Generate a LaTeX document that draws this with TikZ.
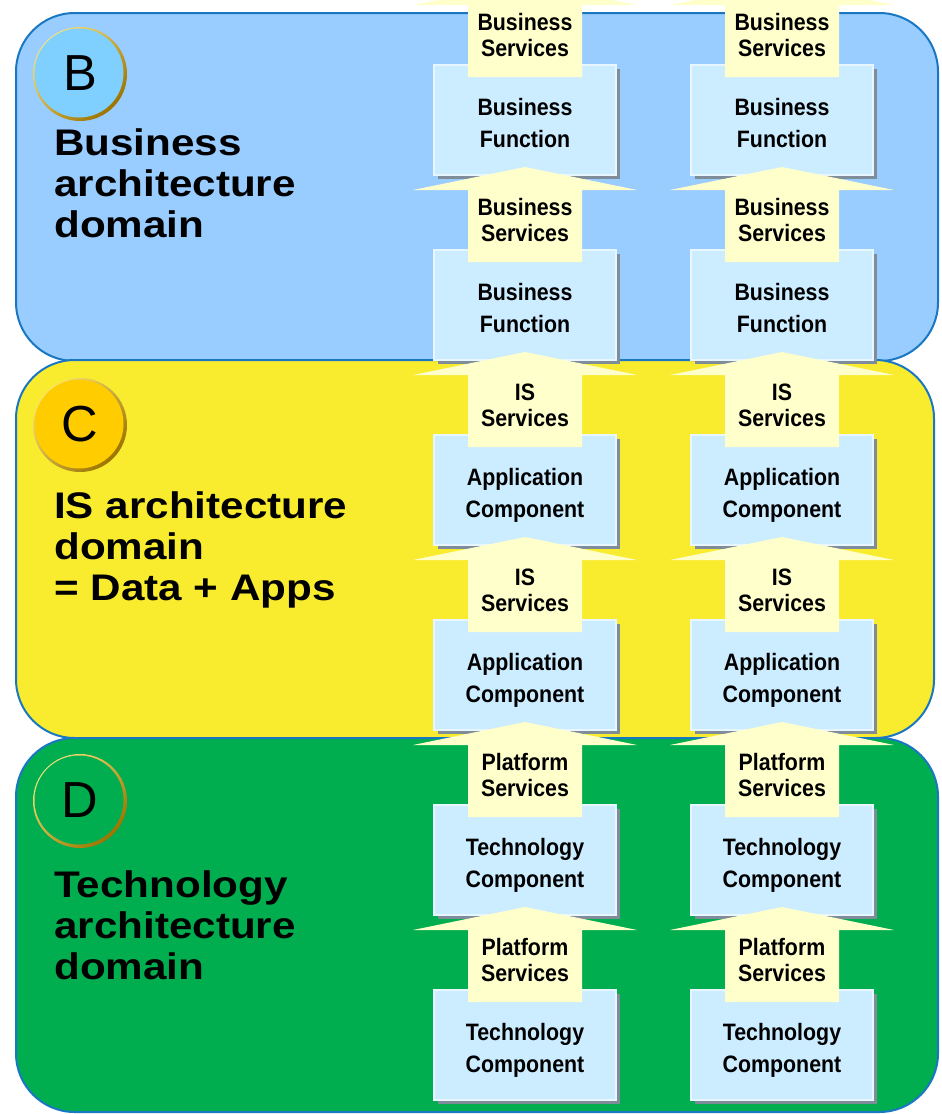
\documentclass[tikz,border=0pt]{standalone}
\usepackage{fontspec}
\setmainfont{Liberation Sans}
\newfontfamily\boxfont[FakeStretch = 0.9]{Liberation Sans}
\newfontfamily\domainfont[FakeStretch = 1.14]{Liberation Sans}
\usetikzlibrary{shadows}

\definecolor{bizblue}{HTML}{99CCFF}
\definecolor{isyellow}{HTML}{F9EB2E}
\definecolor{techgreen}{HTML}{00AD4F}
\definecolor{panelline}{HTML}{1A78C2}
\definecolor{boxfill}{HTML}{CCECFF}
\definecolor{boxedge}{HTML}{E8F7FF}
\definecolor{shadowgray}{HTML}{7F8C99}
\definecolor{arrowfill}{HTML}{FFFFCC}
\definecolor{bdisc}{HTML}{7FD0FF}
\definecolor{cdisc}{HTML}{FFCC00}
\definecolor{goldlight}{HTML}{F8E27A}
\definecolor{golddark}{HTML}{9C7400}

\begin{document}
\begin{tikzpicture}[x = 0.75pt, y = -0.75pt,
	panel/.style = {draw = panelline, line width = 1.5pt, rounded corners = 44pt},
	comp/.style = {draw = boxedge, line width = 0.8pt, fill = boxfill, minimum width = 136.5pt, minimum height = 82.5pt, inner sep = 0pt,
		drop shadow = {shadow xshift = 3pt, shadow yshift = -3pt, fill = shadowgray, opacity = 1}},
	comptext/.style = {inner sep = 0pt, text depth = 0pt, align = center, font = \boxfont\bfseries\fontsize{17.8}{24}\selectfont},
	svc/.style = {inner sep = 0pt, align = center, font = \boxfont\bfseries\fontsize{17.8}{19.5}\selectfont},
	domtitle/.style = {anchor = north west, inner sep = 0pt, align = left, font = \domainfont\bfseries\fontsize{27.75}{30.75}\selectfont},
	discletter/.style = {inner sep = 0pt, font = \fontsize{38}{38}\selectfont}]

	% Page
	
	\useasboundingbox (0, 0) rectangle (942, 1114);
	\clip (0, 0) rectangle (942, 1114);

	% Domain panels
	
	\filldraw [panel, fill = bizblue] (16, 13) rectangle (938, 361);
	\filldraw [panel, fill = isyellow] (16, 360) rectangle (934, 738);
	\filldraw [panel, fill = techgreen] (16, 738) rectangle (938, 1112);
	
	% Domain discs
	
	\foreach \cy/\disc/\ltr in {73/bdisc/B, 424/cdisc/C, 800/techgreen/D}
	{
		\shade [top color = goldlight, bottom color = golddark, shading angle = 45] (80, \cy + 1) circle (47);
		\fill [\disc] (79, \cy) circle (44.5);
		\node [discletter] (disc-\ltr) at (80, \cy) {\ltr};
	}
	
	% Domain titles
	
	\node [domtitle] (dom-b) at (54, 128) {Business\\architecture\\domain};
	\node [domtitle] (dom-c) at (54, 491) {IS architecture\\domain\\= Data + Apps};
	\node [domtitle] (dom-d) at (54, 870) {Technology\\architecture\\domain};
	
	% Components
	
	\foreach \top/\fn in {65/{Business\\Function}, 250/{Business\\Function}, 435/{Application\\Component}, 620/{Application\\Component}, 805/{Technology\\Component}, 990/{Technology\\Component}}
	\foreach \cx in {525, 782}
	{
		\node [comp] (fn-\top-\cx) at (\cx, \top + 55) {};
		\node [comptext] (fntext-\top-\cx) at (\cx, \top + 58) {\fn};
	}
	
	% Service arrows
	
	\foreach \top/\sv in {65/{Business\\Services}, 250/{Business\\Services}, 435/{IS\\Services}, 620/{IS\\Services}, 805/{Platform\\Services}, 990/{Platform\\Services}}
	\foreach \cx in {525, 782}
	{
		\fill [arrowfill] (\cx, \top - 83) -- (\cx + 112, \top - 60) -- (\cx + 57, \top - 60) -- (\cx + 57, \top + 12)
			-- (\cx - 57, \top + 12) -- (\cx - 57, \top - 60) -- (\cx - 112, \top - 60) -- cycle;
		\node [svc] (sv-\top-\cx) at (\cx, \top - 30) {\sv};
	}
	
\end{tikzpicture}
\end{document}
